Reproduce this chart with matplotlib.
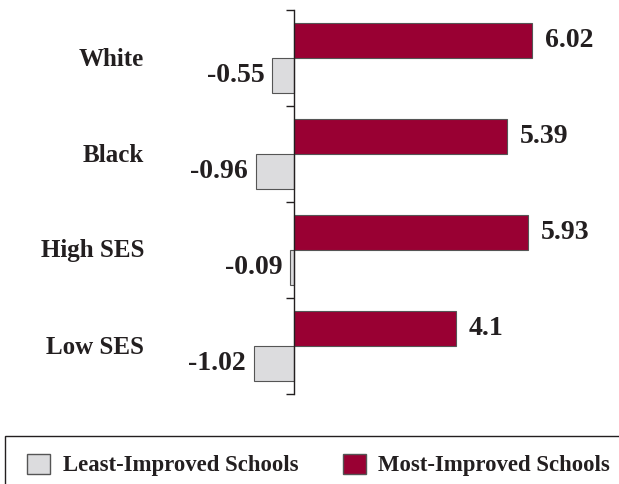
import matplotlib.pyplot as plt
import matplotlib.patches as mpatches
import numpy as np

plt.rcParams['font.family'] = ['Liberation Serif', 'DejaVu Serif']
plt.rcParams['font.weight'] = 'bold'

groups = ['White', 'Black', 'High SES', 'Low SES']
least = [-0.55, -0.96, -0.09, -1.02]
most = [6.02, 5.39, 5.93, 4.1]
least_labels = ['-0.55', '-0.96', '-0.09', '-1.02']
most_labels = ['6.02', '5.39', '5.93', '4.1']

maroon = '#990033'
grey = '#dcdcde'
edge = '#555555'
txt = '#231f20'

W, H = 619, 484
fig = plt.figure(figsize=(W / 100, H / 100), dpi=100)
# axes spans full width, y from px 10 to 394
ax = fig.add_axes([0, (H - 394) / H, 1, (394 - 10) / H])
scale = 39.5  # px per unit
ax.set_xlim(-294 / scale, (W - 294) / scale)
ax.set_ylim(len(groups), 0)

y = np.arange(len(groups)) + 0.5
h = 0.365
ax.barh(y - h / 2, most, height=h, color=maroon, edgecolor=edge, linewidth=0.8)
ax.barh(y + h / 2, least, height=h, color=grey, edgecolor=edge, linewidth=0.8)

for s in ['top', 'right', 'bottom']:
    ax.spines[s].set_visible(False)
ax.spines['left'].set_position(('data', 0))
ax.spines['left'].set_color(txt)
ax.spines['left'].set_linewidth(1.0)
ax.set_yticks(np.arange(len(groups) + 1))
ax.set_yticklabels([])
ax.tick_params(axis='y', direction='out', length=6, width=1.0, color=txt)
ax.set_xticks([])

pt = 0.72
for yi, g in zip(y, groups):
    ax.annotate(g, (0, yi), xytext=(-150 * pt, -1 * pt), textcoords='offset points',
                ha='right', va='center', fontsize=18, color=txt)
for yi, v, lab in zip(y, most, most_labels):
    ax.annotate(lab, (v, yi - h / 2), xytext=(13 * pt, 0), textcoords='offset points',
                ha='left', va='center', fontsize=20, color=txt)
for yi, v, lab in zip(y, least, least_labels):
    ax.annotate(lab, (v, yi + h / 2), xytext=(-8 * pt, 0), textcoords='offset points',
                ha='right', va='center', fontsize=20, color=txt)

# legend frame (runs off the right/bottom edge like the original)
fig.patches.append(mpatches.Rectangle((5 / W, -0.05), 1.2, 0.05 + (H - 436) / H,
                                      transform=fig.transFigure, fill=False,
                                      edgecolor=txt, linewidth=1.0))
handles = [mpatches.Patch(facecolor=grey, edgecolor=edge, label='Least-Improved Schools'),
           mpatches.Patch(facecolor=maroon, edgecolor=edge, label='Most-Improved Schools')]
leg = fig.legend(handles=handles, loc='center left', bbox_to_anchor=(7 / W, 1 - 465 / H),
                 ncol=2, frameon=False, fontsize=16.4, handlelength=1.0,
                 handleheight=1.0, columnspacing=1.95, handletextpad=0.55)
for t in leg.get_texts():
    t.set_color(txt)

fig.savefig('out.png', dpi=100)
